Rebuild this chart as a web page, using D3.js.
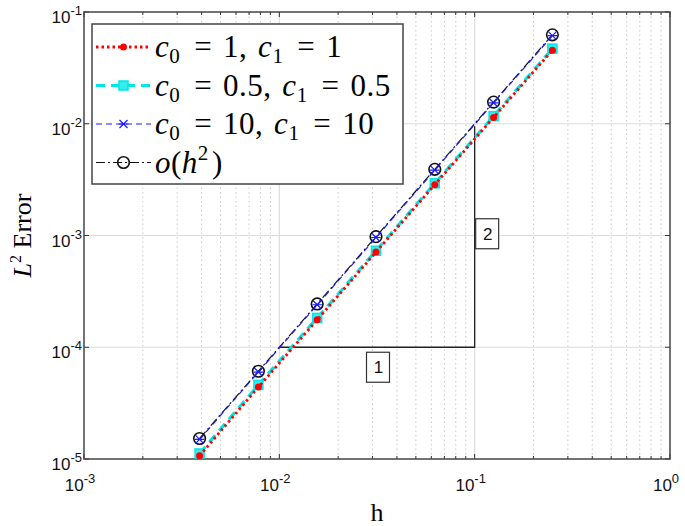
<!DOCTYPE html>
<html>
<head>
<meta charset="utf-8">
<script src="https://cdn.jsdelivr.net/npm/d3@7"></script>
<style>
  body { margin: 0; background: #fff; }
  svg { display: block; }
  .tick-label { font-family: "Liberation Sans", Arial, sans-serif; font-size: 17px; fill: #111; }
  .math { font-family: "Liberation Serif", "DejaVu Serif", serif; fill: #000; }
</style>
</head>
<body>
<div id="chart"></div>
<script>
// mesh sizes and errors
const hValues = [1 / 256, 1 / 128, 1 / 64, 1 / 32, 1 / 16, 1 / 8, 1 / 4];
const errC1 = [1.07e-5, 4.4e-5, 1.76e-4, 7.1e-4, 2.85e-3, 1.14e-2, 4.55e-2];
const errC05 = [1.12e-5, 4.6e-5, 1.83e-4, 7.3e-4, 2.93e-3, 1.17e-2, 4.7e-2];
const errC10 = [1.5e-5, 6.0e-5, 2.4e-4, 9.6e-4, 3.85e-3, 1.54e-2, 6.15e-2];
const errRef = [1.526e-5, 6.1e-5, 2.44e-4, 9.77e-4, 3.91e-3, 1.5625e-2, 6.25e-2];
const xDecades = [-3, -2, -1, 0];
const yDecades = [-5, -4, -3, -2, -1];
// slope triangle corners (h, error)
const triH = [1e-2, 1e-1];
const triE = [1e-4, 9.5e-3];

const width = 685, height = 526;
const margin = { top: 12, right: 15, bottom: 67, left: 84 };

const svg = d3.select("#chart").append("svg").attr("width", width).attr("height", height);

const x = d3.scaleLog().domain([1e-3, 1]).range([margin.left, width - margin.right]);
const y = d3.scaleLog().domain([1e-5, 1e-1]).range([height - margin.bottom, margin.top]);
const x0 = x.range()[0], x1 = x.range()[1], y0 = y.range()[0], y1 = y.range()[1];

// minor x values
const xMinor = [];
xDecades.slice(0, -1).forEach(e => {
    for (let k = 2; k <= 9; k++) xMinor.push(k * Math.pow(10, e));
});

// grid
const grid = svg.append("g");
grid.selectAll(".xminor").data(xMinor).join("line")
    .attr("x1", d => x(d)).attr("x2", d => x(d)).attr("y1", y0).attr("y2", y1)
    .attr("stroke", "#c8c8c8").attr("stroke-width", 1).attr("stroke-dasharray", "1.5,3");
grid.selectAll(".xmajor").data(xDecades.slice(1, -1)).join("line")
    .attr("x1", d => x(Math.pow(10, d))).attr("x2", d => x(Math.pow(10, d))).attr("y1", y0).attr("y2", y1)
    .attr("stroke", "#dcdcdc").attr("stroke-width", 1.2);
grid.selectAll(".ymajor").data(yDecades.slice(1, -1)).join("line")
    .attr("y1", d => y(Math.pow(10, d))).attr("y2", d => y(Math.pow(10, d))).attr("x1", x0).attr("x2", x1)
    .attr("stroke", "#dcdcdc").attr("stroke-width", 1.2);

// ticks on all four sides
const ticks = svg.append("g").attr("stroke", "#333").attr("stroke-width", 1);
xDecades.forEach(e => {
    const px = x(Math.pow(10, e));
    ticks.append("line").attr("x1", px).attr("x2", px).attr("y1", y0).attr("y2", y0 - 5);
    ticks.append("line").attr("x1", px).attr("x2", px).attr("y1", y1).attr("y2", y1 + 5);
});
xMinor.forEach(v => {
    const px = x(v);
    ticks.append("line").attr("x1", px).attr("x2", px).attr("y1", y0).attr("y2", y0 - 3);
    ticks.append("line").attr("x1", px).attr("x2", px).attr("y1", y1).attr("y2", y1 + 3);
});
yDecades.forEach(e => {
    const py = y(Math.pow(10, e));
    ticks.append("line").attr("x1", x0).attr("x2", x0 + 5).attr("y1", py).attr("y2", py);
    ticks.append("line").attr("x1", x1).attr("x2", x1 - 5).attr("y1", py).attr("y2", py);
});

// frame
svg.append("rect").attr("x", x0).attr("y", y1).attr("width", x1 - x0).attr("height", y0 - y1)
    .attr("fill", "none").attr("stroke", "#444").attr("stroke-width", 1.5);

// tick labels
svg.selectAll(".xlab").data(xDecades).join("text")
    .attr("class", "tick-label")
    .attr("x", d => x(Math.pow(10, d)) - 4).attr("y", y0 + 32)
    .attr("text-anchor", "middle")
    .each(function (d) {
        const t = d3.select(this);
        t.append("tspan").text("10");
        t.append("tspan").attr("dy", -8).attr("font-size", 13).text(d === 0 ? "0" : "-" + (-d));
    });
svg.selectAll(".ylab").data(yDecades).join("text")
    .attr("class", "tick-label")
    .attr("x", x0 - 2).attr("y", d => y(Math.pow(10, d)) + 11)
    .attr("text-anchor", "end")
    .each(function (d) {
        const t = d3.select(this);
        t.append("tspan").text("10");
        t.append("tspan").attr("dy", -8).attr("font-size", 13).text("-" + (-d));
    });

// axis titles
svg.append("text").attr("class", "math").attr("x", (x0 + x1) / 2).attr("y", 521)
    .attr("text-anchor", "middle").attr("font-size", 26).text("h");
const yt = svg.append("text").attr("class", "math")
    .attr("transform", `translate(31,${(y0 + y1) / 2}) rotate(-90)`)
    .attr("text-anchor", "middle").attr("font-size", 26);
yt.append("tspan").attr("font-style", "italic").text("L");
yt.append("tspan").attr("dy", -10).attr("font-size", 16).text("2");
yt.append("tspan").attr("dy", 10).text(" Error");

// slope triangle
svg.append("path")
    .attr("d", d3.line()([[x(triH[0]), y(triE[0])], [x(triH[1]), y(triE[0])], [x(triH[1]), y(triE[1])]]))
    .attr("fill", "none").attr("stroke", "#222").attr("stroke-width", 1.3);
const boxes = [
    { text: "1", cx: x(Math.sqrt(triH[0] * triH[1])) + 0.5, cy: y(triE[0]) + 20 },
    { text: "2", cx: x(triH[1]) + 12, cy: y(Math.sqrt(triE[0] * triE[1])) - 3 }
];
boxes.forEach(b => {
    svg.append("rect").attr("x", b.cx - 11).attr("y", b.cy - 15).attr("width", 23).attr("height", 30)
        .attr("fill", "#fff").attr("stroke", "#333").attr("stroke-width", 1.2);
    svg.append("text").attr("class", "tick-label").attr("x", b.cx + 1).attr("y", b.cy + 6)
        .attr("text-anchor", "middle").attr("font-size", 17).attr("fill", "#333").text(b.text);
});

// series
const series = [
    { values: errC05, color: "#00e6e6", width: 3.2, dash: "9,6", marker: "square" },
    { values: errC1, color: "#ff0000", width: 2.8, dash: "2.5,3", marker: "dot" },
    { values: errRef, color: "#111", width: 1.2, dash: "9,3,2,3", marker: "circle" },
    { values: errC10, color: "#1a1aff", width: 1.2, dash: "6,4", marker: "star" }
];
const line = d3.line().x(d => x(d[0])).y(d => y(d[1]));

function drawMarker(g, type, color, cx, cy) {
    if (type === "square") {
        g.append("rect").attr("x", cx - 4.5).attr("y", cy - 4.5).attr("width", 9).attr("height", 9)
            .attr("fill", "#33eeee").attr("stroke", "#00e6e6").attr("stroke-width", 1.5);
    } else if (type === "dot") {
        g.append("circle").attr("cx", cx).attr("cy", cy).attr("r", 3.5).attr("fill", color);
    } else if (type === "circle") {
        g.append("circle").attr("cx", cx).attr("cy", cy).attr("r", 5.8)
            .attr("fill", "none").attr("stroke", color).attr("stroke-width", 1.6);
    } else if (type === "star") {
        const s = 4;
        g.append("path")
            .attr("d", `M${cx - s},${cy - s}L${cx + s},${cy + s}M${cx - s},${cy + s}L${cx + s},${cy - s}M${cx - s * 1.2},${cy}L${cx + s * 1.2},${cy}`)
            .attr("stroke", color).attr("stroke-width", 1.2);
    }
}

series.forEach(s => {
    const pts = hValues.map((h, i) => [h, s.values[i]]);
    svg.append("path").attr("d", line(pts)).attr("fill", "none")
        .attr("stroke", s.color).attr("stroke-width", s.width).attr("stroke-dasharray", s.dash);
    const g = svg.append("g");
    pts.forEach(p => drawMarker(g, s.marker, s.color, x(p[0]), y(p[1])));
});

// legend
const legend = svg.append("g");
legend.append("rect").attr("x", 92).attr("y", 24).attr("width", 311).attr("height", 160)
    .attr("fill", "#fff").attr("stroke", "#444").attr("stroke-width", 1.5);
const legendItems = [
    { s: series[1], parts: [["c", "0"], " = 1, ", ["c", "1"], " = 1"] },
    { s: series[0], parts: [["c", "0"], " = 0.5, ", ["c", "1"], " = 0.5"] },
    { s: series[3], parts: [["c", "0"], " = 10, ", ["c", "1"], " = 10"] },
    { s: series[2], parts: [["o", null], "(", ["h", "2"], ")"] }
];
legendItems.forEach((item, i) => {
    const cy = 47 + i * 38.5;
    legend.append("line").attr("x1", 96).attr("x2", 151).attr("y1", cy).attr("y2", cy)
        .attr("stroke", item.s.color).attr("stroke-width", item.s.width).attr("stroke-dasharray", item.s.dash);
    drawMarker(legend, item.s.marker, item.s.color, 123.5, cy);
    const t = legend.append("text").attr("class", "math").attr("x", 155).attr("y", cy + 10)
        .attr("font-size", 31).attr("letter-spacing", 0.5);
    item.parts.forEach(p => {
        if (typeof p === "string") {
            t.append("tspan").text(p.replace(/ = /g, "\u2004=\u2004").replace(", ", ",\u2004"));
        } else {
            t.append("tspan").attr("font-style", "italic").text(p[0]);
            if (p[1] !== null) {
                const sup = p[1] === "2";
                t.append("tspan").attr("font-size", 21).attr("dy", sup ? -13 : 6).text(p[1]);
                t.append("tspan").attr("dy", sup ? 13 : -6).text("\u200a");
            }
        }
    });
});
</script>
</body>
</html>
